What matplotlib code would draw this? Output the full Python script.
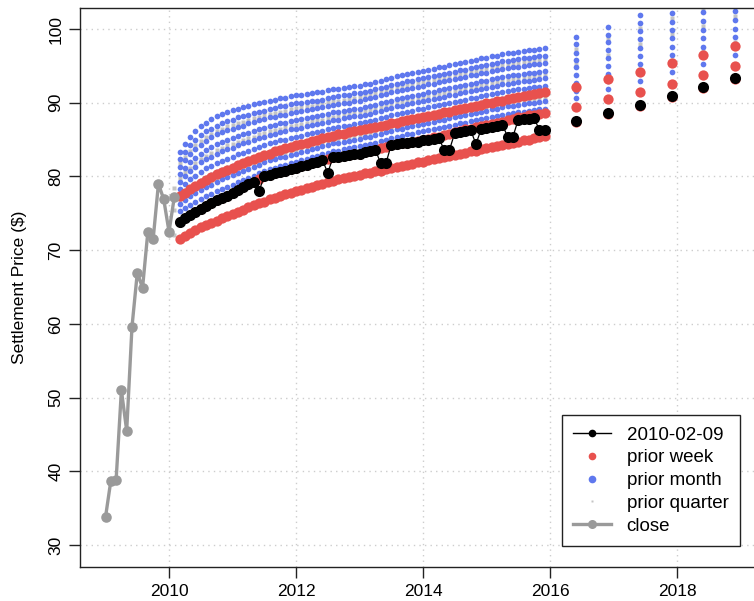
import matplotlib
matplotlib.use("Agg")
import matplotlib.pyplot as plt
import numpy as np
import pandas as pd
from matplotlib.lines import Line2D

plt.rcParams["font.family"] = ["Liberation Sans", "DejaVu Sans"]

# --- Contract months: monthly to Dec 2015, then June / December ---
monthly = pd.date_range("2010-03-01", "2015-12-01", freq="MS")
semi = pd.to_datetime(["2016-06-01", "2016-12-01", "2017-06-01",
                       "2017-12-01", "2018-06-01", "2018-12-01"])
contracts = list(monthly) + list(semi)
n_monthly = len(monthly)
quarter_contracts = [pd.Timestamp("2010-02-01")] + contracts

close_dates = pd.date_range("2009-01-01", "2010-02-01", freq="MS")
close = [33.8, 38.7, 38.8, 51.0, 45.5, 59.6, 66.9, 64.9, 72.5, 71.5, 79.0, 76.9, 72.5, 77.2]

# --- Settlement curve on 2010-02-09 ---
curve_0209 = [
    73.8, 74.3, 74.8, 75.2, 75.6, 76.0, 76.4, 76.8, 77.1, 77.4,
    77.8, 78.2, 78.6, 79.0, 79.3, 78.0, 80.0, 80.2, 80.4, 80.6, 80.8, 81.0,
    81.2, 81.4, 81.6, 81.8, 82.0, 82.2, 80.5, 82.6, 82.7, 82.8, 82.9, 83.0,
    83.1, 83.3, 83.4, 83.6, 81.8, 81.8, 84.3, 84.4, 84.5, 84.6, 84.7, 84.7,
    84.9, 85.0, 85.1, 85.2, 83.6, 83.6, 85.9, 86.0, 86.2, 86.3, 84.4, 86.4,
    86.6, 86.7, 86.9, 87.0, 85.4, 85.4, 87.7, 87.8, 87.8, 87.9, 86.3, 86.3,
    87.5, 88.6, 89.7, 90.9, 92.1, 93.3,
]

# --- Prior week curves ---
week_curves = [
    [77.3, 77.8, 78.3, 78.7, 79.1, 79.5, 79.9, 80.3, 80.6, 80.9,
     81.2, 81.5, 81.8, 82.1, 82.4, 82.6, 82.9, 83.1, 83.4, 83.6, 83.8, 84.0,
     84.2, 84.4, 84.6, 84.8, 85.0, 85.2, 85.3, 85.5, 85.7, 85.8, 86.0, 86.1,
     86.3, 86.4, 86.6, 86.7, 86.9, 87.0, 87.2, 87.3, 87.5, 87.6, 87.8, 87.9,
     88.1, 88.2, 88.4, 88.5, 88.7, 88.8, 89.0, 89.1, 89.3, 89.4, 89.6, 89.7,
     89.9, 90.0, 90.2, 90.3, 90.5, 90.6, 90.8, 90.9, 91.1, 91.2, 91.3, 91.4,
     92.1, 93.2, 94.2, 95.4, 96.5, 97.7],
    [73.8, 74.3, 74.8, 75.2, 75.6, 76.0, 76.4, 76.8, 77.1, 77.4,
     77.8, 78.2, 78.6, 79.0, 79.3, 79.6, 80.0, 80.2, 80.4, 80.6, 80.8, 81.0,
     81.2, 81.4, 81.6, 81.8, 82.0, 82.2, 82.4, 82.6, 82.7, 82.8, 82.9, 83.0,
     83.1, 83.3, 83.4, 83.6, 83.8, 84.0, 84.3, 84.4, 84.5, 84.6, 84.7, 84.8,
     85.0, 85.1, 85.3, 85.4, 85.6, 85.8, 86.0, 86.2, 86.4, 86.5, 86.7, 86.8,
     87.0, 87.1, 87.3, 87.4, 87.6, 87.8, 88.0, 88.1, 88.3, 88.4, 88.5, 88.6,
     89.4, 90.5, 91.5, 92.6, 93.8, 95.0],
    [71.5, 71.9, 72.3, 72.7, 73.1, 73.4, 73.7, 74.0, 74.3, 74.6,
     74.9, 75.2, 75.5, 75.8, 76.1, 76.4, 76.6, 76.9, 77.1, 77.4, 77.6, 77.8,
     78.0, 78.2, 78.4, 78.6, 78.8, 79.0, 79.2, 79.4, 79.6, 79.8, 79.9, 80.1,
     80.2, 80.4, 80.5, 80.7, 80.8, 81.0, 81.1, 81.3, 81.4, 81.6, 81.7, 81.9,
     82.0, 82.2, 82.3, 82.5, 82.6, 82.8, 82.9, 83.1, 83.2, 83.4, 83.5, 83.7,
     83.8, 84.0, 84.1, 84.3, 84.4, 84.6, 84.7, 84.9, 85.0, 85.2, 85.3, 85.5,
     87.4, 88.5, 89.6, 90.8, 92.0, 93.2],
]

# --- Prior month curves ---
month_curves = [
    [75.3, 75.7, 76.1, 76.5, 76.9, 77.3, 77.6, 78.0, 78.3, 78.6,
     78.9, 79.2, 79.5, 79.8, 80.1, 80.4, 80.7, 81.0, 81.2, 81.4, 81.6, 81.8,
     82.0, 82.2, 82.4, 82.6, 82.8, 83.0, 83.2, 83.4, 83.5, 83.7, 83.8, 84.0,
     84.1, 84.3, 84.4, 84.6, 84.8, 85.0, 85.2, 85.4, 85.5, 85.7, 85.8, 86.0,
     86.1, 86.3, 86.4, 86.6, 86.7, 86.9, 87.0, 87.2, 87.3, 87.5, 87.6, 87.8,
     87.9, 88.1, 88.2, 88.4, 88.5, 88.6, 88.7, 88.8, 88.9, 89.0, 89.1, 89.2,
     90.6, 91.8, 93.0, 94.2, 95.3, 96.5],
    [76.3, 76.8, 77.3, 77.7, 78.1, 78.6, 78.9, 79.3, 79.6, 79.9,
     80.2, 80.5, 80.7, 81.0, 81.3, 81.6, 81.9, 82.2, 82.4, 82.6, 82.7, 82.9,
     83.1, 83.3, 83.5, 83.7, 83.9, 84.1, 84.3, 84.5, 84.6, 84.7, 84.8, 85.0,
     85.1, 85.3, 85.4, 85.6, 85.8, 86.0, 86.2, 86.4, 86.5, 86.7, 86.8, 87.0,
     87.1, 87.3, 87.4, 87.6, 87.7, 87.9, 88.0, 88.2, 88.3, 88.5, 88.6, 88.8,
     88.9, 89.1, 89.2, 89.4, 89.5, 89.6, 89.7, 89.8, 89.9, 90.0, 90.1, 90.2,
     91.6, 92.9, 94.1, 95.3, 96.5, 97.7],
    [77.3, 77.9, 78.4, 78.9, 79.4, 79.8, 80.2, 80.6, 80.9, 81.2,
     81.4, 81.7, 82.0, 82.3, 82.5, 82.8, 83.1, 83.3, 83.5, 83.7, 83.9, 84.1,
     84.3, 84.4, 84.6, 84.8, 85.0, 85.1, 85.3, 85.5, 85.6, 85.8, 85.9, 86.1,
     86.2, 86.4, 86.5, 86.7, 86.9, 87.1, 87.3, 87.5, 87.6, 87.8, 87.9, 88.1,
     88.2, 88.4, 88.5, 88.7, 88.8, 89.0, 89.1, 89.3, 89.4, 89.6, 89.7, 89.9,
     90.0, 90.2, 90.3, 90.5, 90.6, 90.7, 90.8, 90.9, 91.0, 91.1, 91.2, 91.3,
     92.7, 93.9, 95.2, 96.5, 97.6, 98.9],
    [78.3, 79.0, 79.6, 80.1, 80.6, 81.1, 81.4, 81.8, 82.1, 82.4,
     82.7, 83.0, 83.2, 83.5, 83.7, 84.0, 84.2, 84.5, 84.7, 84.9, 85.0, 85.2,
     85.4, 85.5, 85.7, 85.9, 86.0, 86.2, 86.4, 86.6, 86.7, 86.8, 86.9, 87.1,
     87.2, 87.4, 87.5, 87.7, 87.9, 88.1, 88.3, 88.5, 88.6, 88.8, 88.9, 89.1,
     89.2, 89.4, 89.5, 89.7, 89.8, 90.0, 90.1, 90.3, 90.4, 90.6, 90.7, 90.9,
     91.0, 91.2, 91.3, 91.5, 91.6, 91.7, 91.8, 91.9, 92.0, 92.1, 92.2, 92.3,
     93.7, 95.0, 96.3, 97.6, 98.8, 100.0],
    [79.3, 80.1, 80.7, 81.3, 81.9, 82.3, 82.7, 83.1, 83.4, 83.7,
     83.9, 84.2, 84.5, 84.7, 84.9, 85.2, 85.4, 85.6, 85.8, 86.0, 86.2, 86.4,
     86.5, 86.6, 86.8, 87.0, 87.1, 87.2, 87.4, 87.6, 87.7, 87.9, 88.0, 88.2,
     88.2, 88.4, 88.5, 88.7, 88.9, 89.1, 89.3, 89.5, 89.6, 89.8, 89.9, 90.1,
     90.2, 90.4, 90.5, 90.7, 90.8, 91.0, 91.1, 91.3, 91.4, 91.6, 91.7, 91.9,
     92.0, 92.2, 92.3, 92.5, 92.6, 92.7, 92.8, 92.9, 93.0, 93.1, 93.2, 93.3,
     94.8, 96.0, 97.4, 98.8, 99.9, 101.2],
    [80.3, 81.2, 81.9, 82.5, 83.1, 83.6, 84.0, 84.4, 84.7, 85.0,
     85.2, 85.5, 85.7, 85.9, 86.2, 86.4, 86.6, 86.8, 87.0, 87.2, 87.3, 87.5,
     87.6, 87.8, 87.9, 88.1, 88.2, 88.3, 88.5, 88.7, 88.8, 88.9, 89.0, 89.2,
     89.2, 89.4, 89.5, 89.7, 89.9, 90.1, 90.3, 90.5, 90.6, 90.8, 90.9, 91.1,
     91.2, 91.4, 91.5, 91.7, 91.8, 92.0, 92.1, 92.3, 92.4, 92.6, 92.7, 92.9,
     93.0, 93.2, 93.3, 93.5, 93.6, 93.7, 93.8, 93.9, 94.0, 94.1, 94.2, 94.3,
     95.8, 97.1, 98.6, 99.9, 101.1, 102.4],
    [81.3, 82.2, 83.0, 83.7, 84.3, 84.8, 85.3, 85.7, 86.0, 86.3,
     86.5, 86.7, 86.9, 87.2, 87.4, 87.6, 87.8, 88.0, 88.1, 88.3, 88.4, 88.6,
     88.8, 88.9, 89.0, 89.1, 89.3, 89.4, 89.6, 89.7, 89.8, 89.9, 90.0, 90.2,
     90.3, 90.5, 90.6, 90.8, 91.0, 91.2, 91.4, 91.6, 91.7, 91.9, 92.0, 92.2,
     92.3, 92.5, 92.6, 92.8, 92.9, 93.1, 93.2, 93.4, 93.5, 93.7, 93.8, 94.0,
     94.1, 94.3, 94.4, 94.6, 94.7, 94.8, 94.9, 95.0, 95.1, 95.2, 95.3, 95.4,
     96.8, 98.2, 99.7, 101.0, 102.3, 103.6],
    [82.3, 83.3, 84.2, 84.9, 85.6, 86.1, 86.5, 86.9, 87.2, 87.5,
     87.7, 88.0, 88.2, 88.4, 88.6, 88.8, 88.9, 89.1, 89.3, 89.5, 89.6, 89.8,
     89.9, 90.0, 90.1, 90.2, 90.3, 90.4, 90.6, 90.8, 90.9, 91.0, 91.1, 91.3,
     91.3, 91.5, 91.6, 91.8, 92.0, 92.2, 92.4, 92.6, 92.7, 92.9, 93.0, 93.2,
     93.3, 93.5, 93.6, 93.8, 93.9, 94.1, 94.2, 94.4, 94.5, 94.7, 94.8, 95.0,
     95.1, 95.3, 95.4, 95.6, 95.7, 95.8, 95.9, 96.0, 96.1, 96.2, 96.3, 96.4,
     97.9, 99.2, 100.8, 102.2, 103.4, 104.7],
    [83.3, 84.4, 85.3, 86.1, 86.8, 87.3, 87.8, 88.2, 88.5, 88.8,
     89.0, 89.2, 89.4, 89.6, 89.8, 90.0, 90.1, 90.3, 90.4, 90.6, 90.7, 90.9,
     91.0, 91.1, 91.2, 91.3, 91.4, 91.5, 91.7, 91.8, 91.9, 92.0, 92.1, 92.3,
     92.3, 92.5, 92.6, 92.8, 93.0, 93.2, 93.4, 93.6, 93.7, 93.9, 94.0, 94.2,
     94.3, 94.5, 94.6, 94.8, 94.9, 95.1, 95.2, 95.4, 95.5, 95.7, 95.8, 96.0,
     96.1, 96.3, 96.4, 96.6, 96.7, 96.8, 96.9, 97.0, 97.1, 97.2, 97.3, 97.4,
     98.9, 100.3, 101.9, 103.3, 104.6, 105.9],
]

# --- Prior quarter curves (first value is the Feb 2010 contract) ---
quarter_curves = [
    [72.0,
     76.8, 77.3, 77.8, 78.2, 78.6, 79.1, 79.4, 79.8, 80.1, 80.4,
     80.7, 81.0, 81.2, 81.5, 81.8, 82.1, 82.4, 82.7, 82.9, 83.1, 83.2, 83.4,
     83.6, 83.8, 84.0, 84.2, 84.4, 84.6, 84.8, 85.0, 85.1, 85.2, 85.3, 85.5,
     85.6, 85.8, 85.9, 86.1, 86.3, 86.5, 86.7, 86.9, 87.0, 87.2, 87.3, 87.5,
     87.6, 87.8, 87.9, 88.1, 88.2, 88.4, 88.5, 88.7, 88.8, 89.0, 89.1, 89.3,
     89.4, 89.6, 89.7, 89.9, 90.0, 90.1, 90.2, 90.3, 90.4, 90.5, 90.6, 90.7,
     92.1, 93.4, 94.6, 95.8, 97.0, 98.2],
    [75.5,
     79.8, 80.6, 81.2, 81.8, 82.4, 82.8, 83.2, 83.6, 83.9, 84.2,
     84.4, 84.7, 85.0, 85.2, 85.4, 85.7, 85.9, 86.1, 86.3, 86.5, 86.7, 86.9,
     87.0, 87.1, 87.3, 87.5, 87.6, 87.7, 87.9, 88.1, 88.2, 88.4, 88.5, 88.7,
     88.7, 88.9, 89.0, 89.2, 89.4, 89.6, 89.8, 90.0, 90.1, 90.3, 90.4, 90.6,
     90.7, 90.9, 91.0, 91.2, 91.3, 91.5, 91.6, 91.8, 91.9, 92.1, 92.2, 92.4,
     92.5, 92.7, 92.8, 93.0, 93.1, 93.2, 93.3, 93.4, 93.5, 93.6, 93.7, 93.8,
     95.3, 96.5, 97.9, 99.3, 100.4, 101.7],
    [78.5,
     81.8, 82.7, 83.5, 84.2, 84.8, 85.3, 85.8, 86.2, 86.5, 86.8,
     87.0, 87.2, 87.4, 87.7, 87.9, 88.1, 88.3, 88.5, 88.6, 88.8, 88.9, 89.1,
     89.3, 89.4, 89.5, 89.6, 89.8, 89.9, 90.1, 90.2, 90.3, 90.4, 90.5, 90.7,
     90.8, 91.0, 91.1, 91.3, 91.5, 91.7, 91.9, 92.1, 92.2, 92.4, 92.5, 92.7,
     92.8, 93.0, 93.1, 93.3, 93.4, 93.6, 93.7, 93.9, 94.0, 94.2, 94.3, 94.5,
     94.6, 94.8, 94.9, 95.1, 95.2, 95.3, 95.4, 95.5, 95.6, 95.7, 95.8, 95.9,
     97.3, 98.7, 100.2, 101.5, 102.8, 104.1],
]

x_ticks = [2010, 2012, 2014, 2016, 2018]
y_ticks = [30, 40, 50, 60, 70, 80, 90, 100]

# --- Colours ---
c_red = "#E8514E"
c_blue = "#5F78EE"
c_quarter = "#C4C4C4"
c_close = "#9A9A9A"

def to_year(dates):
    return np.array([d.year + (d.month - 1) / 12 for d in dates])

x_curve = to_year(contracts)
x_quarter = to_year(quarter_contracts)
x_close = to_year(close_dates)

# --- Figure ---
fig = plt.figure(figsize=(7.54, 6.01), dpi=100)
ax = fig.add_axes([80 / 754, 34 / 601, 674 / 754, 559 / 601])
ax.set_xlim(2008.598, 2019.213)
ax.set_ylim(27.02, 102.85)

ax.grid(True, color="#CDCDCD", linestyle=(0, (1, 3)), linewidth=1.0)
ax.set_axisbelow(True)

for q in quarter_curves:
    ax.plot(x_quarter, q, linestyle="none", marker="s", ms=2.4,
            color=c_quarter, mec="none")

for m in month_curves:
    ax.plot(x_curve, m, linestyle="none", marker="o", ms=4.1,
            color=c_blue, mec="none")

for w in week_curves:
    ax.plot(x_curve, w, linestyle="none", marker="o", ms=7.4,
            color=c_red, mec="none")

ax.plot(x_curve[:n_monthly], curve_0209[:n_monthly], color="black", lw=0.9)
ax.plot(x_curve, curve_0209, linestyle="none", marker="o", ms=8.0,
        color="black", mec="none")

ax.plot(x_close, close, color=c_close, lw=2.4, marker="o", ms=7.6, mec="none")

# --- Axes styling ---
ax.spines["right"].set_visible(False)
for side in ["left", "top", "bottom"]:
    ax.spines[side].set_linewidth(1.0)
    ax.spines[side].set_color("#222222")

ax.set_xticks(x_ticks)
ax.set_xticklabels([str(t) for t in x_ticks])
ax.set_yticks(y_ticks)
ax.set_yticklabels([str(t) for t in y_ticks], rotation=90, va="center")
ax.tick_params(axis="both", direction="out", length=8, width=1.0,
               color="#222222", labelsize=12.5)
ax.tick_params(axis="x", pad=4)
ax.tick_params(axis="y", pad=4)

ax.set_ylabel("Settlement Price ($)", fontsize=12.5)
ax.yaxis.set_label_coords(-0.078, 0.5)

handles = [
    Line2D([], [], color="black", lw=1.0, marker="o", ms=5.5, mec="none"),
    Line2D([], [], linestyle="none", marker="o", ms=5.5, color=c_red, mec="none"),
    Line2D([], [], linestyle="none", marker="o", ms=5.5, color=c_blue, mec="none"),
    Line2D([], [], linestyle="none", marker="s", ms=1.8, color=c_quarter, mec="none"),
    Line2D([], [], color=c_close, lw=2.4, marker="o", ms=6.5, mec="none"),
]
labels = ["2010-02-09", "prior week", "prior month", "prior quarter", "close"]
leg = ax.legend(handles, labels, loc="lower right", bbox_to_anchor=(0.979, 0.0376),
                borderaxespad=0, fontsize=13.5, frameon=True, fancybox=False,
                edgecolor="#222222", framealpha=1, handlelength=2.0,
                handletextpad=0.85, labelspacing=0.3, borderpad=0.6)
leg.get_frame().set_linewidth(1.0)

plt.savefig("out.png", dpi=100)
